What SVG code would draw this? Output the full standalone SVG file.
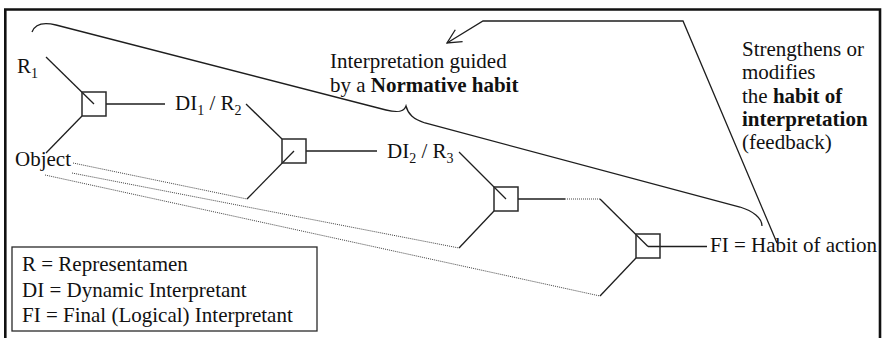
<svg xmlns="http://www.w3.org/2000/svg" width="885" height="338" viewBox="0 0 885 338">
  <style>
    text { font-family: "Liberation Serif", "Times New Roman", serif; font-size: 21px; fill: #111; }
    .b { font-weight: bold; }
    .sign { fill: none; stroke: #2a2a2a; stroke-width: 1.5; }
    .ln { fill: none; stroke: #1e1e1e; stroke-width: 1.3; }
    .dot { fill: none; stroke: #444; stroke-width: 1; stroke-dasharray: 1 1; }
    .frame { fill: none; stroke: #111; stroke-width: 2.6; }
  </style>
  <defs>
    <marker id="openArrow" viewBox="0 0 16 16" refX="15" refY="8" markerWidth="16" markerHeight="16" markerUnits="userSpaceOnUse" orient="auto">
      <path d="M1,1 L15,8 L1,15" fill="none" stroke="#1e1e1e" stroke-width="1.3"/>
    </marker>
  </defs>

  <rect width="885" height="338" fill="#fff"/>
  <!-- outer frame: open at the bottom -->
  <path class="frame" d="M5.3,338 L5.3,9.5 L880,9.5 L880,338"/>

  <!-- connectors -->
  <g id="connectors">
    <!-- sign 1 -->
    <line class="ln" x1="46" y1="57" x2="94" y2="104"/>
    <line class="ln" x1="82" y1="116" x2="46" y2="153"/>
    <line class="ln" x1="106" y1="104" x2="165" y2="104"/>
    <!-- sign 2 -->
    <line class="ln" x1="246" y1="104" x2="282" y2="139"/>
    <line class="ln" x1="294" y1="151" x2="247" y2="199"/>
    <line class="ln" x1="306" y1="151" x2="377" y2="151"/>
    <!-- sign 3 -->
    <line class="ln" x1="459" y1="152" x2="506" y2="199"/>
    <line class="ln" x1="494" y1="211" x2="459" y2="248"/>
    <line class="ln" x1="518" y1="199" x2="565" y2="199"/>
    <line class="dot" x1="565" y1="199" x2="600" y2="199"/>
    <!-- sign 4 -->
    <line class="ln" x1="600" y1="199" x2="648" y2="246.5"/>
    <line class="ln" x1="636" y1="258" x2="600" y2="296"/>
    <line class="ln" x1="648" y1="246.5" x2="707" y2="246.5"/>
    <!-- object links -->
    <line class="dot" x1="73" y1="163" x2="247" y2="199"/>
    <line class="dot" x1="72" y1="173" x2="459" y2="248"/>
    <line class="dot" x1="45" y1="175" x2="600" y2="296"/>
    <!-- feedback arrow -->
    <polyline class="ln" points="777,243 683,21 483,21 447,43" marker-end="url(#openArrow)"/>
  </g>

  <!-- sign boxes -->
  <g id="sign1"><rect class="sign" x="82" y="92" width="24" height="24"/></g>
  <g id="sign2"><rect class="sign" x="282" y="139" width="24" height="24"/></g>
  <g id="sign3"><rect class="sign" x="494" y="187" width="24" height="24"/></g>
  <g id="sign4"><rect class="sign" x="636" y="234" width="24" height="24"/></g>

  <!-- labels -->
  <g id="r1"><text x="17" y="73">R<tspan font-size="14" dy="5">1</tspan></text></g>
  <g id="object"><text x="15" y="166">Object</text></g>
  <g id="di1r2"><text x="175" y="110">DI<tspan font-size="14" dy="5">1</tspan><tspan dy="-5"> / R</tspan><tspan font-size="14" dy="5">2</tspan></text></g>
  <g id="di2r3"><text x="387" y="158">DI<tspan font-size="14" dy="5">2</tspan><tspan dy="-5"> / R</tspan><tspan font-size="14" dy="5">3</tspan></text></g>
  <g id="fi"><text x="710" y="252">FI = Habit of action</text></g>

  <!-- brace spanning the sequence of interpretations -->
  <g id="normative-habit">
    <path class="ln" d="M32,32 C35,24 44,22 56,25 L386,110 C398,113 404,112 406,106 C408,114 413,119 425,123 L740,207 C753,211 762,218 762,226"/>
    <text x="330" y="68">Interpretation guided</text>
    <text x="330" y="92">by a <tspan class="b">Normative habit</tspan></text>
  </g>

  <g id="feedback-note">
    <text x="742" y="55.5">Strengthens or</text>
    <text x="742" y="79">modifies</text>
    <text x="742" y="102.5">the <tspan class="b">habit of</tspan></text>
    <text x="742" y="126" class="b">interpretation</text>
    <text x="742" y="149">(feedback)</text>
  </g>

  <!-- legend -->
  <g id="legend">
    <rect x="12" y="247" width="305" height="84" fill="#fff" stroke="#2a2a2a" stroke-width="1.3"/>
    <text x="22" y="271">R = Representamen</text>
    <text x="22" y="297">DI = Dynamic Interpretant</text>
    <text x="22" y="322">FI = Final (Logical) Interpretant</text>
  </g>
</svg>
